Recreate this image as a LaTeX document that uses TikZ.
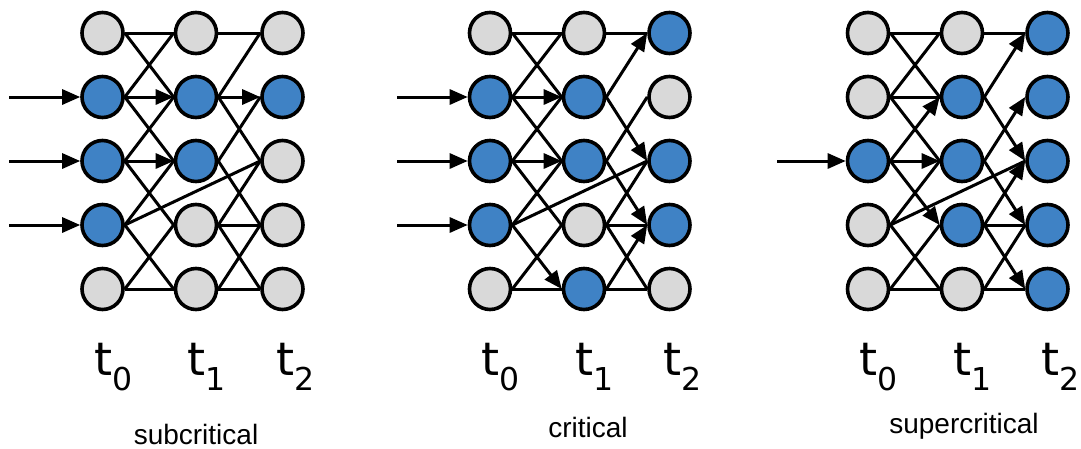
\documentclass[tikz,border=0pt]{standalone}
\usepackage{fontspec}
\usetikzlibrary{arrows.meta}
\newfontfamily\tfam{DejaVu Sans}
\newfontfamily\capfam{Liberation Sans}
\definecolor{actblue}{RGB}{63,130,197}
\definecolor{idlegrey}{RGB}{217,217,217}
% time-step label: large t with a lowered index
\newcommand\tstep[1]{t\raisebox{-15pt}{\fontsize{31.5}{34}\selectfont #1}}
\begin{document}
\begin{tikzpicture}[x=1pt,y=-1pt,
  unit/.style={circle, draw=black, line width=3.6pt, minimum size=41pt, inner sep=0pt},
  on/.style={unit, fill=actblue},
  off/.style={unit, fill=idlegrey},
  link/.style={line width=3pt},
  fire/.style={link, -{Triangle[length=18pt,width=15pt]}},
  tlabel/.style={font=\tfam\fontsize{46}{50}\selectfont, inner sep=0pt, anchor=base west},
  caption/.style={font=\capfam\fontsize{28}{32}\selectfont, inner sep=0pt, anchor=base}]
\useasboundingbox (0,0) rectangle (1081,448);

% ---------- subcritical ----------
\foreach \r/\s in {0/off,1/on,2/on,3/on,4/off}
  \node[\s] (a0\r) at (102.5,{33+64*\r}) {};
\foreach \r/\s in {0/off,1/on,2/on,3/off,4/off}
  \node[\s] (a1\r) at (196,{33+64*\r}) {};
\foreach \r/\s in {0/off,1/on,2/off,3/off,4/off}
  \node[\s] (a2\r) at (282.5,{33+64*\r}) {};
\foreach \u/\v in {a00/a10,a00/a11,a01/a10,a01/a12,a02/a11,a02/a13,a03/a12,a03/a14,a03/a22,
                   a04/a13,a04/a14,a10/a20,a11/a20,a11/a22,a12/a21,a12/a23,a13/a22,a13/a23,
                   a13/a24,a14/a23,a14/a24}
  \draw[link] (\u.east) -- (\v.west);
\foreach \u/\v in {a01/a11,a02/a12,a11/a21}
  \draw[fire] (\u.east) -- (\v.west);
\foreach \r in {1,2,3}{
  \coordinate (ain\r) at (9,{33+64*\r});
  \draw[fire] (ain\r) -- (a0\r.west);
}
\node[tlabel] (at0) at (94,375) {\tstep{0}};
\node[tlabel] (at1) at (187,375) {\tstep{1}};
\node[tlabel] (at2) at (276,375) {\tstep{2}};
\node[caption] (acap) at (196,444) {subcritical};

% ---------- critical ----------
\foreach \r/\s in {0/off,1/on,2/on,3/on,4/off}
  \node[\s] (b0\r) at (490,{33+64*\r}) {};
\foreach \r/\s in {0/off,1/on,2/on,3/off,4/on}
  \node[\s] (b1\r) at (584,{33+64*\r}) {};
\foreach \r/\s in {0/on,1/off,2/on,3/on,4/off}
  \node[\s] (b2\r) at (669.5,{33+64*\r}) {};
\foreach \u/\v in {b00/b10,b00/b11,b01/b10,b01/b12,b02/b11,b02/b13,b03/b12,b03/b22,
                   b04/b13,b04/b14,b10/b20,b12/b21,b13/b22,b13/b23,b13/b24,b14/b24}
  \draw[link] (\u.east) -- (\v.west);
\foreach \u/\v in {b01/b11,b02/b12,b03/b14,b11/b20,b11/b22,b12/b23,b14/b23}
  \draw[fire] (\u.east) -- (\v.west);
\foreach \r in {1,2,3}{
  \coordinate (bin\r) at (397,{33+64*\r});
  \draw[fire] (bin\r) -- (b0\r.west);
}
\node[tlabel] (bt0) at (481.5,375) {\tstep{0}};
\node[tlabel] (bt1) at (575,375) {\tstep{1}};
\node[tlabel] (bt2) at (663,375) {\tstep{2}};
\node[caption] (bcap) at (588,437) {critical};

% ---------- supercritical ----------
\foreach \r/\s in {0/off,1/off,2/on,3/off,4/off}
  \node[\s] (c0\r) at (868,{33+64*\r}) {};
\foreach \r/\s in {0/off,1/on,2/on,3/on,4/off}
  \node[\s] (c1\r) at (962,{33+64*\r}) {};
\foreach \r/\s in {0/on,1/on,2/on,3/on,4/on}
  \node[\s] (c2\r) at (1047.5,{33+64*\r}) {};
\foreach \u/\v in {c00/c10,c00/c11,c01/c10,c01/c11,c01/c12,c03/c12,c03/c14,c03/c22,
                   c04/c13,c04/c14,c10/c20,c13/c23,c14/c23,c14/c24}
  \draw[link] (\u.east) -- (\v.west);
\foreach \u/\v in {c02/c11,c02/c12,c02/c13,c11/c20,c11/c22,c12/c21,c12/c23,c13/c22,c13/c24}
  \draw[fire] (\u.east) -- (\v.west);
\coordinate (cin2) at (777,161);
\draw[fire] (cin2) -- (c02.west);
\node[tlabel] (ct0) at (859.5,375) {\tstep{0}};
\node[tlabel] (ct1) at (953,375) {\tstep{1}};
\node[tlabel] (ct2) at (1041,375) {\tstep{2}};
\node[caption] (ccap) at (964,433) {supercritical};
\end{tikzpicture}
\end{document}
